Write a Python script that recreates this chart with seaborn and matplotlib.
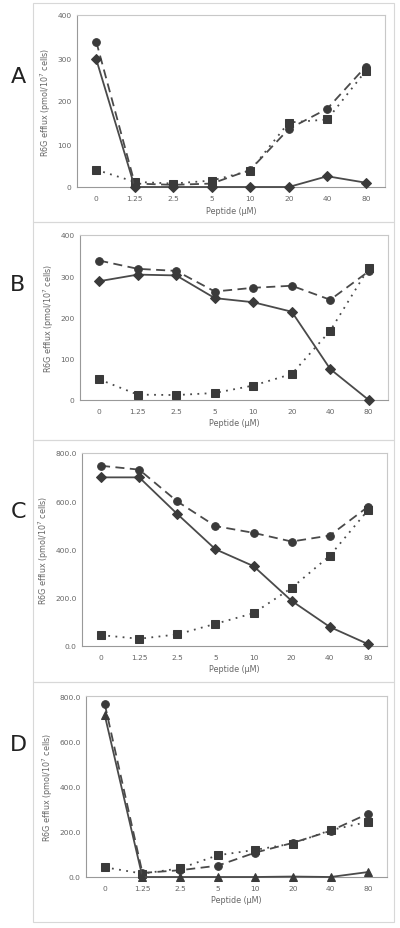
import matplotlib
matplotlib.use("Agg")
import matplotlib.pyplot as plt
import seaborn as sns
import pandas as pd
from matplotlib.patches import Rectangle

sns.set_theme(style="white")
plt.rcParams['font.family'] = ['DejaVu Sans']

peptide = ["0", "1.25", "2.5", "5", "10", "20", "40", "80"]

# Panel A
a_circle = [338, 8, 5, 8, 40, 135, 182, 280]
a_square = [40, 12, 8, 15, 38, 150, 157, 270]
a_diamond = [297, 0, 0, 0, 0, 0, 25, 10]
# Panel B
b_circle = [338, 318, 313, 263, 272, 277, 243, 312]
b_square = [50, 13, 12, 17, 35, 63, 168, 320]
b_diamond = [288, 304, 302, 247, 237, 214, 75, 0]
# Panel C
c_circle = [747, 731, 599, 497, 469, 433, 458, 577]
c_square = [45, 30, 48, 92, 136, 241, 374, 563]
c_diamond = [699, 699, 547, 401, 331, 187, 79, 8]
# Panel D
d_circle = [763, 18, 30, 50, 108, 151, 204, 280]
d_square = [43, 15, 38, 96, 120, 148, 207, 244]
d_triangle = [714, 0, 0, 0, 0, 2, 0, 22]

panels = [
    ("A", [(a_circle, "o", (5, 3)), (a_square, "s", (1, 3)), (a_diamond, "D", "")], 400, [0, 100, 200, 300, 400], "{:.0f}"),
    ("B", [(b_circle, "o", (5, 3)), (b_square, "s", (1, 3)), (b_diamond, "D", "")], 400, [0, 100, 200, 300, 400], "{:.0f}"),
    ("C", [(c_circle, "o", (5, 3)), (c_square, "s", (1, 3)), (c_diamond, "D", "")], 800, [0, 200, 400, 600, 800], "{:.1f}"),
    ("D", [(d_circle, "o", (5, 3)), (d_square, "s", (1, 3)), (d_triangle, "^", "")], 800, [0, 200, 400, 600, 800], "{:.1f}"),
]

W, H = 400, 929
fig = plt.figure(figsize=(4.0, 9.29), dpi=100)

# axes rects in pixel coords: left, right, top, bottom
ax_px = [(77, 385, 16, 188), (80, 388, 236, 401), (82, 387, 454, 647), (86, 387, 697, 878)]
box_px = [(33, 394, 4, 223), (33, 394, 223, 441), (33, 394, 441, 683), (33, 394, 683, 923)]
letter_y = [77, 285, 512, 745]

for (l, r, t, b) in box_px:
    fig.patches.append(Rectangle((l / W, 1 - b / H), (r - l) / W, (b - t) / H,
                                 transform=fig.transFigure, fill=False,
                                 edgecolor="#d8d8d8", linewidth=0.8))

mcol = "#3a3a3a"
lcol = "#4a4a4a"
for i, (letter, series, ymax, yticks, fmt) in enumerate(panels):
    l, r, t, b = ax_px[i]
    ax = fig.add_axes([l / W, 1 - b / H, (r - l) / W, (b - t) / H])
    for vals, mk, dash in series:
        df = pd.DataFrame({"Peptide": peptide, "val": vals})
        sns.lineplot(data=df, x="Peptide", y="val", ax=ax, color=lcol,
                     marker=mk, markersize=5.5 if mk != "D" else 4.8,
                     markerfacecolor=mcol, markeredgecolor=mcol,
                     linewidth=1.3, sort=False,
                     dashes=False)
        line = ax.lines[-1]
        line.set_clip_on(False)
        line.set_zorder(5)
        if dash == "":
            line.set_linestyle("-")
        else:
            line.set_dashes(dash)
    ax.set_xlim(-0.5, 7.5)
    ax.set_ylim(0, ymax)
    ax.set_yticks(yticks)
    ax.set_yticklabels([fmt.format(v) for v in yticks])
    ax.tick_params(axis="x", labelsize=5.4, colors="#666666", length=0, pad=6)
    ax.tick_params(axis="y", labelsize=5.4, colors="#666666", length=2, color="#999999", pad=2)
    for s in ax.spines.values():
        s.set_color("#c8c8c8")
        s.set_linewidth(0.8)
    ax.spines["left"].set_color("#999999")
    ax.spines["bottom"].set_color("#999999")
    ax.set_xlabel("Peptide (\u03bcM)", fontsize=5.8, color="#666666", labelpad=3)
    ax.set_ylabel("R6G efflux (pmol/10$^7$ cells)", fontsize=5.8, color="#666666", labelpad=3)
    fig.text(18 / W, 1 - letter_y[i] / H, letter, fontsize=16, color="#222222",
             ha="center", va="center")

fig.savefig("out.png", dpi=100)
